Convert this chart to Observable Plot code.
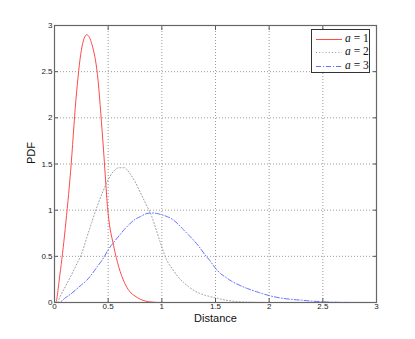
<!DOCTYPE html>
<html><head><meta charset="utf-8">
<script src="https://cdn.jsdelivr.net/npm/d3@7"></script>
<script src="https://cdn.jsdelivr.net/npm/@observablehq/plot@0.6"></script>
<style>
body{margin:0;background:#fff}
#wrap{position:relative;width:415px;height:339px}
#legend{position:absolute;left:311px;top:29px;width:57px;height:42px;border:1px solid #333;background:#fff;box-sizing:content-box}
#legend .row{position:absolute;left:0;height:13px;width:57px}
#legend svg{position:absolute;left:4px;top:0}
#legend span{position:absolute;left:33px;top:-1px;font-family:"Liberation Serif","Times New Roman",serif;font-size:11.5px;color:#111;white-space:nowrap}
</style>
</head><body><div id="wrap"></div>
<script>
const xTicks = [0, 0.5, 1, 1.5, 2, 2.5, 3];
const yTicks = [0, 0.5, 1, 1.5, 2, 2.5, 3];

const seriesNames = ["a = 1", "a = 2", "a = 3"];
const seriesColors = ["#ff4a4a", "#9a9a9a", "#6272ff"];
const seriesDash = [null, "1,2.2", "5,2,1,2"];

const xA1 = [0,0.01,0.05,0.1,0.15,0.2,0.25,0.3,0.35,0.4,0.45,0.5,0.55,0.6,0.65,0.7,0.75,0.8,0.85,0.9,0.95,1.0];
const yA1 = [0,0,0.3,0.8,1.42,2.2,2.73,2.9,2.79,2.47,1.76,0.96,0.62,0.38,0.22,0.12,0.07,0.035,0.015,0.005,0.001,0];

const xA2 = [0,0.025,0.05,0.1,0.15,0.2,0.25,0.3,0.35,0.4,0.45,0.5,0.55,0.6,0.65,0.7,0.75,0.8,0.85,0.9,0.95,1.0,1.05,1.1,1.15,1.2,1.25,1.3,1.35,1.4,1.5,1.6,1.7,1.8,1.9,2.0];
const yA2 = [0,0,0.06,0.17,0.28,0.4,0.52,0.7,0.88,1.05,1.2,1.33,1.42,1.46,1.46,1.4,1.31,1.19,1.07,0.95,0.78,0.6,0.45,0.36,0.28,0.22,0.17,0.13,0.1,0.08,0.05,0.025,0.01,0.004,0.001,0];

const xA3 = [0,0.04,0.1,0.15,0.2,0.25,0.3,0.35,0.4,0.45,0.5,0.55,0.6,0.65,0.7,0.75,0.8,0.85,0.9,0.95,1.0,1.05,1.1,1.15,1.2,1.25,1.3,1.35,1.4,1.45,1.5,1.55,1.6,1.65,1.7,1.8,1.9,2.0,2.1,2.2,2.3,2.4,2.5,2.6,2.7,3.0];
const yA3 = [0,0,0.05,0.09,0.14,0.19,0.24,0.31,0.39,0.47,0.57,0.65,0.72,0.79,0.85,0.9,0.93,0.96,0.97,0.965,0.95,0.93,0.9,0.85,0.79,0.73,0.67,0.6,0.52,0.45,0.37,0.31,0.27,0.23,0.2,0.15,0.11,0.075,0.05,0.035,0.025,0.015,0.008,0.003,0.001,0];

const series = [[xA1, yA1], [xA2, yA2], [xA3, yA3]].map(([xs, ys], i) =>
  xs.map((x, j) => ({x, y: ys[j], s: seriesNames[i]})));

const gridStyle = {stroke: "#9a9a9a", strokeOpacity: 1, strokeDasharray: "1,2", strokeWidth: 1};

const plot = Plot.plot({
  width: 415, height: 339,
  marginLeft: 54, marginRight: 39, marginTop: 25, marginBottom: 37,
  x: {domain: [0, 3], label: null},
  y: {domain: [0, 3], label: null},
  style: {fontFamily: "'Liberation Sans', Arial, sans-serif", fontSize: "8px", color: "#222", background: "#fff", overflow: "visible"},
  marks: [
    Plot.gridX(xTicks, gridStyle),
    Plot.gridY(yTicks, gridStyle),
    ...series.map((data, i) => Plot.line(data, {
      x: "x", y: "y", stroke: seriesColors[i], strokeWidth: 1,
      strokeDasharray: seriesDash[i], curve: "monotone-x"
    })),
    Plot.axisX(xTicks, {anchor: "bottom", tickSize: -4, tickPadding: 5, stroke: "#555", tickFormat: d => String(d), label: null}),
    Plot.axisX(xTicks, {anchor: "top", tickSize: -4, stroke: "#555", tickFormat: () => "", label: null}),
    Plot.axisY(yTicks, {anchor: "left", tickSize: -4, tickPadding: 6, stroke: "#555", tickFormat: d => String(d), label: null}),
    Plot.axisY(yTicks, {anchor: "right", tickSize: -4, stroke: "#555", tickFormat: () => "", label: null}),
    Plot.frame({stroke: "#666", strokeWidth: 1.2}),
    Plot.text(["Distance"], {frameAnchor: "bottom", dy: 19, fontSize: 11, fill: "#111"}),
    Plot.text(["PDF"], {frameAnchor: "left", dx: -23, rotate: -90, fontSize: 11, fill: "#111"})
  ]
});
const wrap = document.getElementById("wrap");
wrap.appendChild(plot);

const legend = document.createElement("div");
legend.id = "legend";
seriesNames.forEach((name, i) => {
  const row = document.createElement("div");
  row.className = "row";
  row.style.top = (3 + i * 13.3) + "px";
  const dash = seriesDash[i] ? ` stroke-dasharray="${seriesDash[i]}"` : "";
  const parts = name.split(" ");
  row.innerHTML = `<svg width="26" height="13"><line x1="0" x2="26" y1="6.5" y2="6.5" stroke="${seriesColors[i]}" stroke-width="1"${dash}/></svg><span><i>${parts[0]}</i> ${parts.slice(1).join(" ")}</span>`;
  legend.appendChild(row);
});
wrap.appendChild(legend);
</script>
</body></html>
